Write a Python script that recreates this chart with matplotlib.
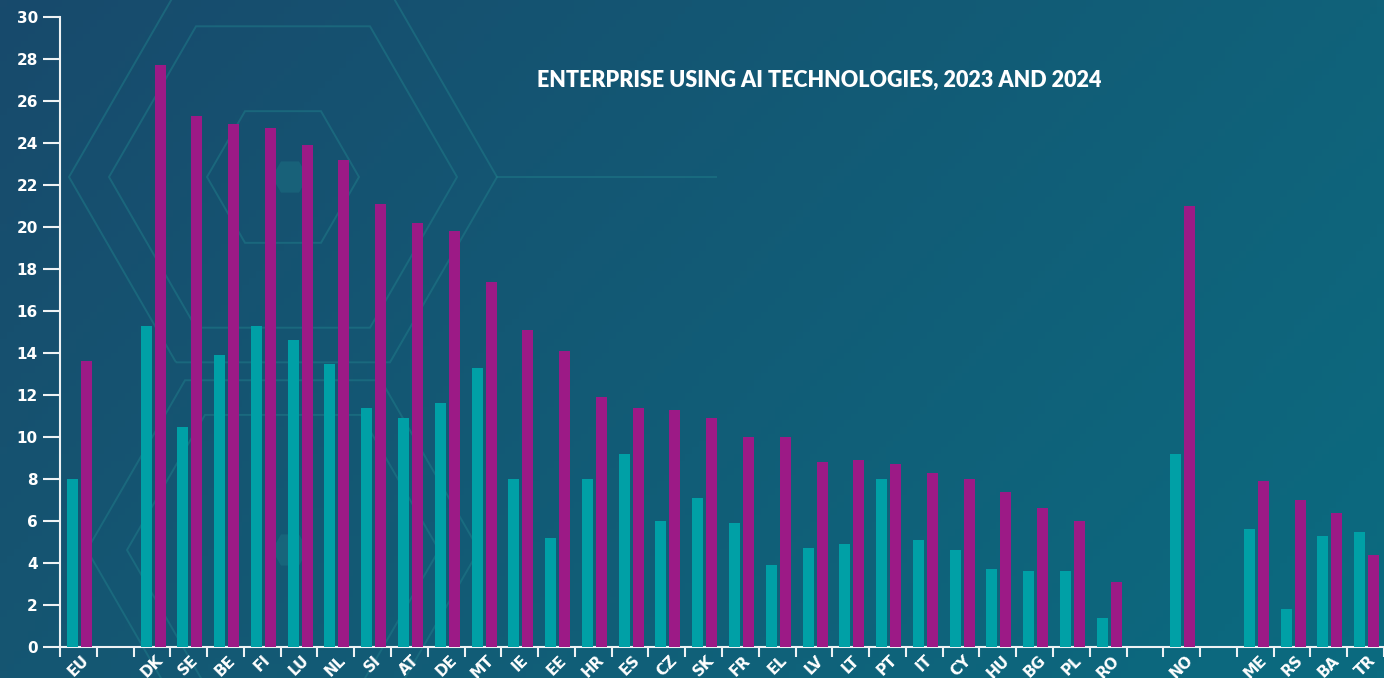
import matplotlib.pyplot as plt
import numpy as np
from matplotlib.patches import RegularPolygon

# ---------- data ----------
categories = ['EU', '', 'DK', 'SE', 'BE', 'FI', 'LU', 'NL', 'SI', 'AT', 'DE', 'MT',
              'IE', 'EE', 'HR', 'ES', 'CZ', 'SK', 'FR', 'EL', 'LV', 'LT', 'PT', 'IT',
              'CY', 'HU', 'BG', 'PL', 'RO', '', 'NO', '', 'ME', 'RS', 'BA', 'TR']
nan = np.nan
ai_2023 = [8.0, nan, 15.3, 10.5, 13.9, 15.3, 14.6, 13.5, 11.4, 10.9, 11.6, 13.3,
           8.0, 5.2, 8.0, 9.2, 6.0, 7.1, 5.9, 3.9, 4.7, 4.9, 8.0, 5.1,
           4.6, 3.7, 3.6, 3.6, 1.4, nan, 9.2, nan, 5.6, 1.8, 5.3, 5.5]
ai_2024 = [13.6, nan, 27.7, 25.3, 24.9, 24.7, 23.9, 23.2, 21.1, 20.2, 19.8, 17.4,
           15.1, 14.1, 11.9, 11.4, 11.3, 10.9, 10.0, 10.0, 8.8, 8.9, 8.7, 8.3,
           8.0, 7.4, 6.6, 6.0, 3.1, nan, 21.0, nan, 7.9, 7.0, 6.4, 4.4]
y_ticks = list(range(0, 31, 2))

# ---------- colours ----------
c_2023 = "#00a0a6"
c_2024 = "#9c1a86"
c_axis = "#eef2f4"

W, H = 1384, 678
fig = plt.figure(figsize=(W / 100, H / 100), dpi=100)

# background gradient + faint hexagon decoration (pixel coords)
bg = fig.add_axes([0, 0, 1, 1])
bg.set_xlim(0, W)
bg.set_ylim(H, 0)
bg.axis('off')
tl = np.array([0x18, 0x4a, 0x6c]) / 255
tr = np.array([0x10, 0x62, 0x7a]) / 255
bl = np.array([0x15, 0x56, 0x72]) / 255
br = np.array([0x0b, 0x6b, 0x80]) / 255
u = np.linspace(0, 1, 200)[None, :, None]
v = np.linspace(0, 1, 100)[:, None, None]
grad = (1 - v) * ((1 - u) * tl + u * tr) + v * ((1 - u) * bl + u * br)
bg.imshow(grad, extent=[0, W, H, 0], aspect='auto', zorder=0)

hex_col = "#1f7a88"
for cx, cy, r in [(283, 177, 76), (283, 177, 174), (283, 177, 214), (283, 550, 156), (283, 550, 196)]:
    bg.add_patch(RegularPolygon((cx, cy), 6, radius=r, orientation=np.pi / 6,
                                fill=False, ec=hex_col, lw=1.4, alpha=0.55, zorder=1))
for cx, cy in [(290, 177), (290, 550)]:
    bg.add_patch(RegularPolygon((cx, cy), 6, radius=18, orientation=np.pi / 6,
                                fc=hex_col, ec='none', alpha=0.4, zorder=1))
bg.plot([497, 716], [177, 177], color=hex_col, lw=1.4, alpha=0.55, zorder=1)

# ---------- main chart ----------
ax = fig.add_axes([60 / W, (H - 647) / H, (W - 60) / W, 630 / H])
ax.set_facecolor('none')
x = np.arange(len(categories))
width = 0.30
ax.bar(x - 0.16, ai_2023, width, color=c_2023, zorder=3)
ax.bar(x + 0.22, ai_2024, width, color=c_2024, zorder=3)

ax.set_xlim(-0.5, 35.28)
ax.set_ylim(0, 30)
ax.set_yticks(y_ticks)
ax.set_xticks(x)
ax.set_xticklabels(categories, rotation=45, ha='center', va='top',
                   fontsize=11, fontweight='bold', color='white')
ax.set_xticks(np.arange(-0.5, 36, 1), minor=True)
ax.tick_params(axis='x', which='major', length=0, pad=4)
ax.tick_params(axis='x', which='minor', length=7, width=1.5, color=c_axis)
ax.tick_params(axis='y', length=12, width=1.5, color=c_axis, pad=4,
               labelsize=11, labelcolor='white')
for lbl in ax.get_yticklabels():
    lbl.set_fontweight('bold')

for s in ['top', 'right']:
    ax.spines[s].set_visible(False)
for s in ['left', 'bottom']:
    ax.spines[s].set_color(c_axis)
    ax.spines[s].set_linewidth(1.5)

fig.text(819 / W, 1 - 80 / H, "ENTERPRISE USING AI TECHNOLOGIES, 2023 AND 2024",
         ha='center', va='center', color='white', fontsize=15.5, fontweight='heavy',
         family='Lato')

fig.savefig("out.png", dpi=100)
